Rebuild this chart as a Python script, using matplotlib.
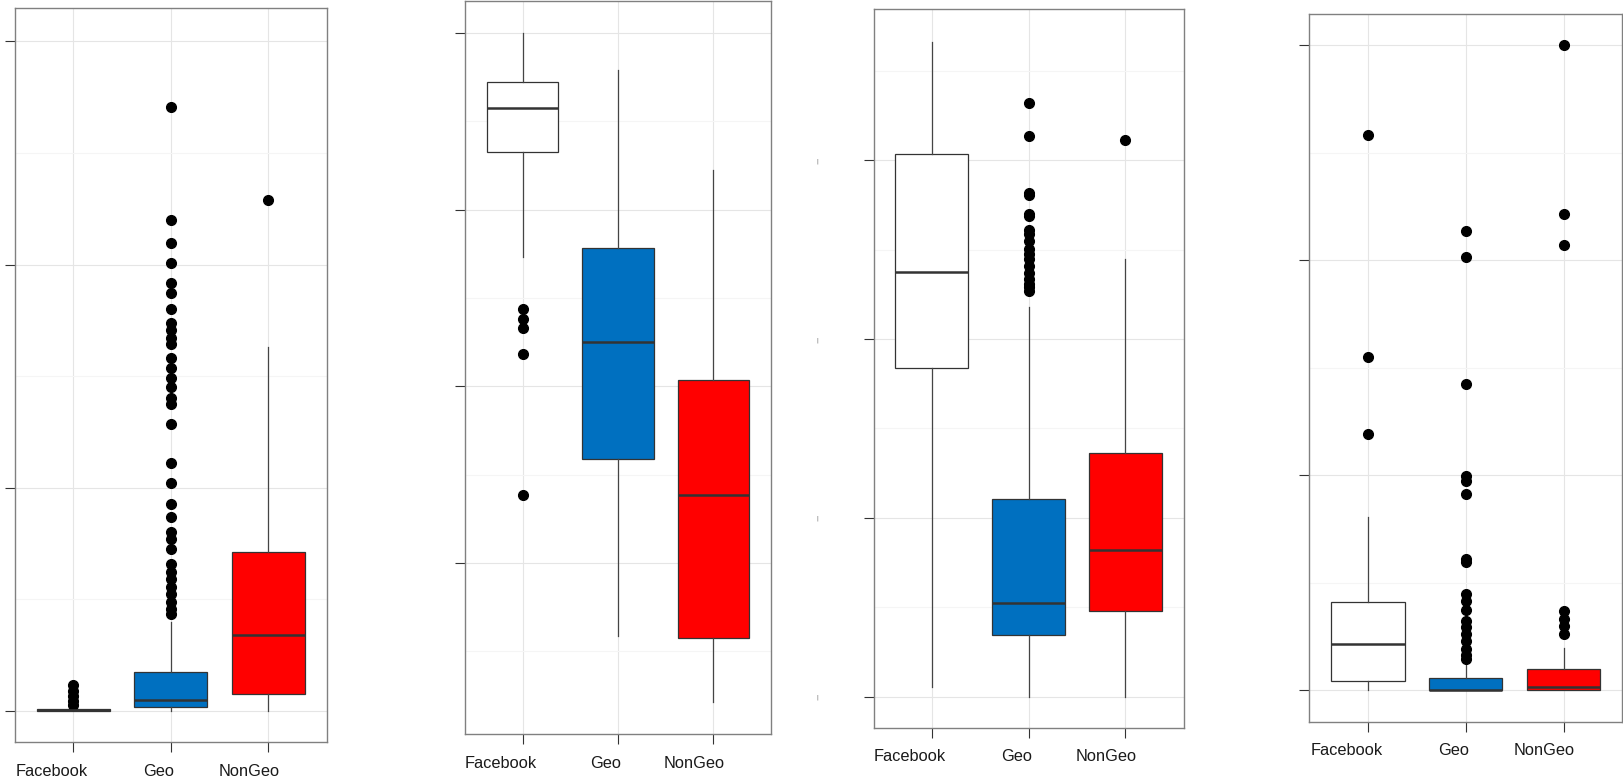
import numpy as np
import matplotlib
matplotlib.use('Agg')
import matplotlib.pyplot as plt

categories = ['Facebook', 'Geo', 'NonGeo']
box_colors = ['#FFFFFF', '#0070C0', '#FF0000']

# panel 1
p1_low = [0.0, 0.0, 0.0]
p1_q1 = [0.0, 0.016, 0.078]
p1_med = [0.005, 0.051, 0.339]
p1_q3 = [0.010, 0.174, 0.713]
p1_high = [0.012, 0.40, 1.631]
p1_fliers = [
    [0.027, 0.045, 0.067, 0.089, 0.116],
    [2.708, 2.200, 2.099, 2.006, 1.917, 1.872, 1.801, 1.738, 1.705, 1.671,
     1.643, 1.582, 1.538, 1.493, 1.453, 1.404, 1.377, 1.288, 1.110, 1.021,
     0.929, 0.869, 0.802, 0.769, 0.724, 0.657, 0.624, 0.591, 0.557, 0.524,
     0.490, 0.457, 0.435],
    [2.289],
]

# panel 2
p2_low = [1.730, -0.413, -0.784]
p2_q1 = [2.326, 0.587, -0.427]
p2_med = [2.579, 1.253, 0.385]
p2_q3 = [2.722, 1.784, 1.039]
p2_high = [3.0, 2.792, 2.225]
p2_fliers = [[1.438, 1.382, 1.331, 1.185, 0.385], [], []]

# panel 3
p3_low = [0.058, 0.0, 0.0]
p3_q1 = [1.840, 0.348, 0.481]
p3_med = [2.374, 0.525, 0.823]
p3_q3 = [3.033, 1.106, 1.365]
p3_high = [3.659, 2.177, 2.449]
p3_fliers = [
    [],
    [3.319, 3.136, 2.816, 2.802, 2.699, 2.686, 2.610, 2.588, 2.547, 2.505,
     2.477, 2.449, 2.408, 2.371, 2.338, 2.310, 2.288, 2.269],
    [3.111],
]

# panel 4
p4_low = [0.0, 0.0, 0.0]
p4_q1 = [0.046, 0.0, 0.0]
p4_med = [0.217, 0.0, 0.014]
p4_q3 = [0.412, 0.060, 0.102]
p4_high = [0.807, 0.135, 0.199]
p4_fliers = [
    [2.582, 1.548, 1.194],
    [2.137, 2.015, 1.425, 0.997, 0.974, 0.911, 0.611, 0.599, 0.449, 0.414,
     0.372, 0.322, 0.294, 0.264, 0.229, 0.194, 0.164, 0.148],
    [3.0, 2.214, 2.070, 0.368, 0.333, 0.298, 0.264],
]

panels = [
    (p1_low, p1_q1, p1_med, p1_q3, p1_high, p1_fliers),
    (p2_low, p2_q1, p2_med, p2_q3, p2_high, p2_fliers),
    (p3_low, p3_q1, p3_med, p3_q3, p3_high, p3_fliers),
    (p4_low, p4_q1, p4_med, p4_q3, p4_high, p4_fliers),
]

# layout: frame in pixels (left, top, right, bottom) and y limits
W, H = 1623, 779
frames_px = [(14.7, 8, 327, 742), (465.3, 0.5, 770.7, 734),
             (873.5, 9, 1183.5, 727.7), (1309.3, 13.7, 1622.2, 721.7)]
ylims = [(-0.139, 3.150), (-0.968, 3.185), (-0.172, 3.844), (-0.145, 3.145)]
label_dx = [-15.5, -8.6, -13.7]  # points, labels sit a bit left of ticks

fig = plt.figure(figsize=(W / 100, H / 100), dpi=100)

for i, (lo, q1, med, q3, hi, fl) in enumerate(panels):
    l, t, r, b = frames_px[i]
    ax = fig.add_axes([l / W, 1 - b / H, (r - l) / W, (b - t) / H])
    stats = []
    for k in range(3):
        stats.append(dict(whislo=lo[k], q1=q1[k], med=med[k], q3=q3[k],
                          whishi=hi[k], fliers=fl[k]))
    bp = ax.bxp(stats, positions=[1, 2, 3], widths=0.75, patch_artist=True,
                showcaps=False,
                boxprops=dict(edgecolor='#333333', linewidth=0.9),
                medianprops=dict(color='#333333', linewidth=1.8),
                whiskerprops=dict(color='#444444', linewidth=0.9),
                flierprops=dict(marker='o', markerfacecolor='black',
                                markeredgecolor='black', markersize=7))
    for patch, c in zip(bp['boxes'], box_colors):
        patch.set_facecolor(c)

    ymin, ymax = ylims[i]
    ax.set_xlim(0.4, 3.6)
    ax.set_ylim(ymin, ymax)
    major = [v for v in range(-1, 5) if ymin < v < ymax]
    minor = [v + 0.5 for v in range(-2, 5) if ymin < v + 0.5 < ymax]
    ax.set_yticks(major)
    ax.set_yticks(minor, minor=True)
    ax.set_xticks([1, 2, 3])
    ax.set_xticklabels([])
    if i == 2:
        ax.set_yticklabels(['|'] * len(major), fontsize=3.8, color='#555555')
    else:
        ax.set_yticklabels([])
    ax.tick_params(axis='both', which='major', length=7.2, width=0.8,
                   color='#333333', direction='out')
    ax.tick_params(axis='y', which='major', pad=33)
    ax.tick_params(axis='y', which='minor', length=0)
    ax.set_axisbelow(True)
    ax.grid(which='major', color='#e5e5e5', linewidth=0.8)
    ax.grid(which='minor', axis='y', color='#f5f5f5', linewidth=0.8)
    for s in ax.spines.values():
        s.set_color('#808080')
        s.set_linewidth(1.0)

    for k, name in enumerate(categories):
        ax.annotate(name, xy=(k + 1, 0), xycoords=('data', 'axes fraction'),
                    xytext=(label_dx[k], -24.3), textcoords='offset points',
                    ha='center', va='baseline', fontsize=11.8,
                    family='Liberation Sans', color='#1a1a1a')

fig.savefig('out.png', dpi=100)
